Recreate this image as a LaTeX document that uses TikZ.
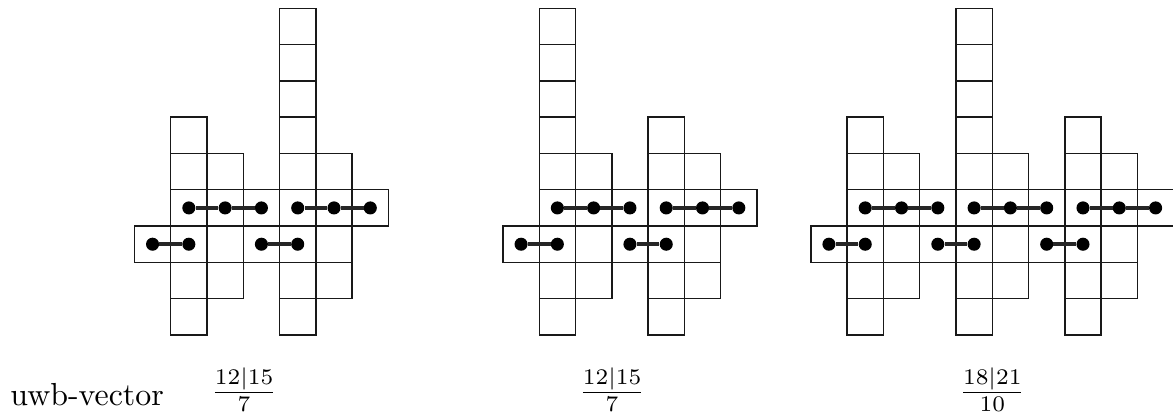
\documentclass[tikz,border=0pt]{standalone}
\tikzset{
  cell/.style={draw=black!90, line width=1.1pt},
  dot/.style={circle, fill=black, inner sep=0pt, minimum size=0.36cm},
  link/.style={draw=black!85, line width=3.4pt},
  lbl/.style={scale=2.5, inner sep=0pt},
}
% #1 = column offset, #2 = top row of the left column, #3 = node prefix
\newcommand\uwbunit[3]{%
  \foreach \r in {#2,...,8} \draw[cell] (#1+1,-\r) rectangle ++(1,-1);
  \foreach \r in {4,...,7} \draw[cell] (#1+2,-\r) rectangle ++(1,-1);
  \foreach \c in {1,2,3} \draw[cell] (#1+\c,-5) rectangle ++(1,-1);
  \foreach \c in {0,1} \draw[cell] (#1+\c,-6) rectangle ++(1,-1);
  \node[dot] (#3a) at (#1+1.5,-5.5) {};
  \node[dot] (#3b) at (#1+2.5,-5.5) {};
  \node[dot] (#3c) at (#1+3.5,-5.5) {};
  \node[dot] (#3d) at (#1+0.5,-6.5) {};
  \node[dot] (#3e) at (#1+1.5,-6.5) {};
  \draw[link] (#3a) -- (#3b);
  \draw[link] (#3b) -- (#3c);
  \draw[link] (#3d) -- (#3e);
}
\begin{document}
\begin{tikzpicture}
\useasboundingbox (0,0) rectangle (32.32,-11.436);
% diagram 1
\begin{scope}[shift={(3.703,-0.229)}]
  \uwbunit{0}{3}{pa}
  \uwbunit{3}{0}{pb}
\end{scope}
% diagram 2
\begin{scope}[shift={(13.857,-0.229)}]
  \uwbunit{0}{0}{qa}
  \uwbunit{3}{3}{qb}
\end{scope}
% diagram 3
\begin{scope}[shift={(22.34,-0.229)}]
  \uwbunit{0}{3}{ra}
  \uwbunit{3}{0}{rb}
  \uwbunit{6}{3}{rc}
\end{scope}
\node[lbl, anchor=base west] (name) at (0.27,-11.16) {uwb-vector};
\node[lbl, anchor=base] (f1) at (6.724,-11.03) {$\frac{12|15}{7}$};
\node[lbl, anchor=base] (f2) at (16.864,-11.03) {$\frac{12|15}{7}$};
\node[lbl, anchor=base] (f3) at (27.34,-11.03) {$\frac{18|21}{10}$};
\end{tikzpicture}
\end{document}
